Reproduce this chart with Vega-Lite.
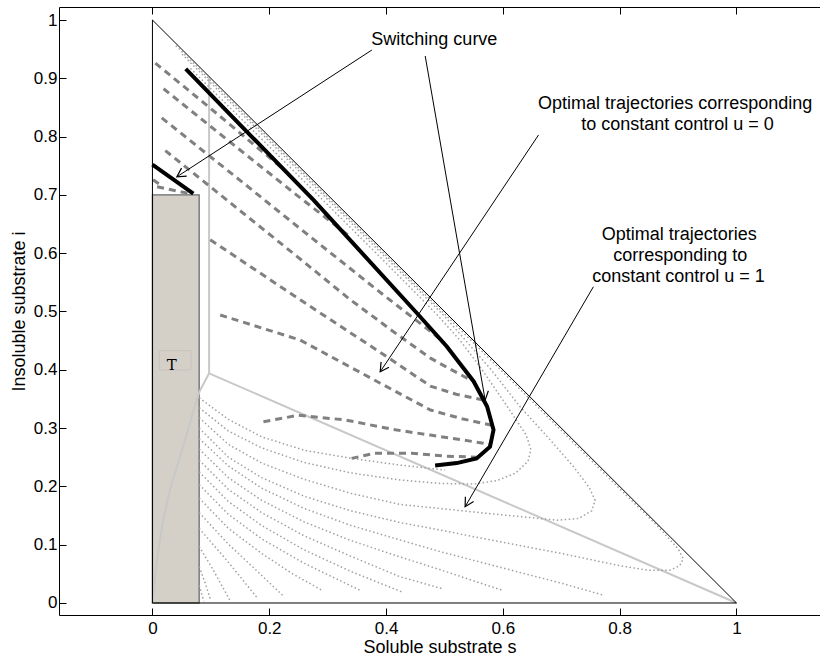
{
  "$schema": "https://vega.github.io/schema/vega-lite/v6.json",
  "width": 761,
  "height": 608,
  "autosize": {"type": "none"},
  "padding": {"left": 59, "top": 7, "right": 0, "bottom": 41},
  "background": "white",
  "config": {
    "view": {"stroke": null},
    "font": "Liberation Sans",
    "axis": {
      "domainColor": "black", "tickColor": "black", "labelColor": "black", "titleColor": "black",
      "labelFont": "Liberation Sans", "titleFont": "Liberation Sans",
      "labelFontSize": 17, "titleFontSize": 18, "titleFontWeight": "normal",
      "grid": false, "tickSize": -7, "domainWidth": 1, "tickWidth": 1
    }
  },
  "datasets": {
    "box": [{"x": 0, "x2": 0.08, "y": 0, "y2": 0.7}],
    "tbox": [{"x": 0.012, "x2": 0.066, "y": 0.3997, "y2": 0.4328}],
    "tri": [{"id": "t", "x": 0, "y": 1}, {"id": "t", "x": 1, "y": 0}, {"id": "t", "x": 0, "y": 0}, {"id": "t", "x": 0, "y": 1}],
    "gray": [
      {"id": "g1", "x": 0.097, "y": 0.902}, {"id": "g1", "x": 0.097, "y": 0.394}, {"id": "g1", "x": 1, "y": 0},
      {"id": "g2", "x": 0.097, "y": 0.394}, {"id": "g2", "x": 0.0805, "y": 0.3625}, {"id": "g2", "x": 0.068, "y": 0.322},
      {"id": "g2", "x": 0.056, "y": 0.28}, {"id": "g2", "x": 0.043, "y": 0.237}, {"id": "g2", "x": 0.03, "y": 0.194},
      {"id": "g2", "x": 0.019, "y": 0.145}, {"id": "g2", "x": 0.011, "y": 0.097}, {"id": "g2", "x": 0.005, "y": 0.05},
      {"id": "g2", "x": 0.0017, "y": 0.011}, {"id": "g2", "x": 0, "y": 0}
    ],
    "dot": [
      {"id": "a0", "x": 0.08, "y": 0.352}, {"id": "a0", "x": 0.13, "y": 0.315}, {"id": "a0", "x": 0.187, "y": 0.285}, {"id": "a0", "x": 0.26, "y": 0.262}, {"id": "a0", "x": 0.341, "y": 0.248}, {"id": "a0", "x": 0.42, "y": 0.237}, {"id": "a0", "x": 0.501, "y": 0.228},
      {"id": "a1", "x": 0.08, "y": 0.335}, {"id": "a1", "x": 0.13, "y": 0.295}, {"id": "a1", "x": 0.187, "y": 0.266}, {"id": "a1", "x": 0.26, "y": 0.241}, {"id": "a1", "x": 0.34, "y": 0.223}, {"id": "a1", "x": 0.424, "y": 0.211}, {"id": "a1", "x": 0.493, "y": 0.205}, {"id": "a1", "x": 0.55, "y": 0.204}, {"id": "a1", "x": 0.59, "y": 0.21}, {"id": "a1", "x": 0.622, "y": 0.223}, {"id": "a1", "x": 0.643, "y": 0.243}, {"id": "a1", "x": 0.648, "y": 0.263}, {"id": "a1", "x": 0.64, "y": 0.288}, {"id": "a1", "x": 0.607, "y": 0.338}, {"id": "a1", "x": 0.561, "y": 0.405}, {"id": "a1", "x": 0.527, "y": 0.45}, {"id": "a1", "x": 0.487, "y": 0.495}, {"id": "a1", "x": 0.4, "y": 0.583}, {"id": "a1", "x": 0.3, "y": 0.683}, {"id": "a1", "x": 0.2, "y": 0.783}, {"id": "a1", "x": 0.1, "y": 0.882}, {"id": "a1", "x": 0.065, "y": 0.917},
      {"id": "a2", "x": 0.08, "y": 0.318}, {"id": "a2", "x": 0.13, "y": 0.272}, {"id": "a2", "x": 0.187, "y": 0.24}, {"id": "a2", "x": 0.26, "y": 0.212}, {"id": "a2", "x": 0.34, "y": 0.188}, {"id": "a2", "x": 0.424, "y": 0.169}, {"id": "a2", "x": 0.493, "y": 0.162}, {"id": "a2", "x": 0.6, "y": 0.151}, {"id": "a2", "x": 0.693, "y": 0.142}, {"id": "a2", "x": 0.73, "y": 0.145}, {"id": "a2", "x": 0.752, "y": 0.158}, {"id": "a2", "x": 0.758, "y": 0.176}, {"id": "a2", "x": 0.748, "y": 0.198}, {"id": "a2", "x": 0.72, "y": 0.235}, {"id": "a2", "x": 0.68, "y": 0.281}, {"id": "a2", "x": 0.63, "y": 0.336}, {"id": "a2", "x": 0.58, "y": 0.4}, {"id": "a2", "x": 0.5, "y": 0.492}, {"id": "a2", "x": 0.4, "y": 0.592}, {"id": "a2", "x": 0.3, "y": 0.692}, {"id": "a2", "x": 0.2, "y": 0.792}, {"id": "a2", "x": 0.1, "y": 0.892}, {"id": "a2", "x": 0.05, "y": 0.942},
      {"id": "a3", "x": 0.08, "y": 0.3}, {"id": "a3", "x": 0.13, "y": 0.25}, {"id": "a3", "x": 0.187, "y": 0.215}, {"id": "a3", "x": 0.26, "y": 0.183}, {"id": "a3", "x": 0.34, "y": 0.158}, {"id": "a3", "x": 0.424, "y": 0.138}, {"id": "a3", "x": 0.493, "y": 0.125}, {"id": "a3", "x": 0.6, "y": 0.104}, {"id": "a3", "x": 0.7, "y": 0.085}, {"id": "a3", "x": 0.8, "y": 0.064}, {"id": "a3", "x": 0.85, "y": 0.056}, {"id": "a3", "x": 0.885, "y": 0.056}, {"id": "a3", "x": 0.903, "y": 0.064}, {"id": "a3", "x": 0.909, "y": 0.076}, {"id": "a3", "x": 0.9, "y": 0.093}, {"id": "a3", "x": 0.864, "y": 0.133}, {"id": "a3", "x": 0.8, "y": 0.196}, {"id": "a3", "x": 0.7, "y": 0.296}, {"id": "a3", "x": 0.6, "y": 0.396}, {"id": "a3", "x": 0.5, "y": 0.496}, {"id": "a3", "x": 0.4, "y": 0.596}, {"id": "a3", "x": 0.3, "y": 0.696}, {"id": "a3", "x": 0.2, "y": 0.796}, {"id": "a3", "x": 0.1, "y": 0.896}, {"id": "a3", "x": 0.04, "y": 0.956},
      {"id": "a4", "x": 0.08, "y": 0.282}, {"id": "a4", "x": 0.13, "y": 0.235}, {"id": "a4", "x": 0.187, "y": 0.197}, {"id": "a4", "x": 0.26, "y": 0.162}, {"id": "a4", "x": 0.34, "y": 0.133}, {"id": "a4", "x": 0.424, "y": 0.108}, {"id": "a4", "x": 0.493, "y": 0.088}, {"id": "a4", "x": 0.6, "y": 0.06}, {"id": "a4", "x": 0.7, "y": 0.034}, {"id": "a4", "x": 0.77, "y": 0.014},
      {"id": "a5", "x": 0.08, "y": 0.264}, {"id": "a5", "x": 0.13, "y": 0.215}, {"id": "a5", "x": 0.187, "y": 0.176}, {"id": "a5", "x": 0.26, "y": 0.139}, {"id": "a5", "x": 0.34, "y": 0.107}, {"id": "a5", "x": 0.424, "y": 0.079}, {"id": "a5", "x": 0.493, "y": 0.057}, {"id": "a5", "x": 0.598, "y": 0.022},
      {"id": "a6", "x": 0.08, "y": 0.245}, {"id": "a6", "x": 0.13, "y": 0.195}, {"id": "a6", "x": 0.187, "y": 0.155}, {"id": "a6", "x": 0.26, "y": 0.115}, {"id": "a6", "x": 0.34, "y": 0.08}, {"id": "a6", "x": 0.424, "y": 0.045}, {"id": "a6", "x": 0.498, "y": 0.024},
      {"id": "a7", "x": 0.08, "y": 0.225}, {"id": "a7", "x": 0.13, "y": 0.174}, {"id": "a7", "x": 0.187, "y": 0.133}, {"id": "a7", "x": 0.26, "y": 0.091}, {"id": "a7", "x": 0.34, "y": 0.054}, {"id": "a7", "x": 0.427, "y": 0.019},
      {"id": "a8", "x": 0.08, "y": 0.203}, {"id": "a8", "x": 0.13, "y": 0.152}, {"id": "a8", "x": 0.187, "y": 0.11}, {"id": "a8", "x": 0.26, "y": 0.068}, {"id": "a8", "x": 0.355, "y": 0.022},
      {"id": "a9", "x": 0.08, "y": 0.18}, {"id": "a9", "x": 0.13, "y": 0.128}, {"id": "a9", "x": 0.187, "y": 0.085}, {"id": "a9", "x": 0.24, "y": 0.05}, {"id": "a9", "x": 0.29, "y": 0.022},
      {"id": "a10", "x": 0.08, "y": 0.155}, {"id": "a10", "x": 0.13, "y": 0.101}, {"id": "a10", "x": 0.18, "y": 0.054}, {"id": "a10", "x": 0.224, "y": 0.012},
      {"id": "a11", "x": 0.08, "y": 0.128}, {"id": "a11", "x": 0.13, "y": 0.07}, {"id": "a11", "x": 0.18, "y": 0.008},
      {"id": "a12", "x": 0.08, "y": 0.097}, {"id": "a12", "x": 0.105, "y": 0.055}, {"id": "a12", "x": 0.133, "y": 0.004},
      {"id": "a13", "x": 0.08, "y": 0.062}, {"id": "a13", "x": 0.09, "y": 0.035}, {"id": "a13", "x": 0.1, "y": 0.004},
      {"id": "a14", "x": 0.08, "y": 0.03}, {"id": "a14", "x": 0.088, "y": 0.003}
    ],
    "dash": [
      {"id": "d1", "x": 0.005, "y": 0.926}, {"id": "d1", "x": 0.1, "y": 0.848}, {"id": "d1", "x": 0.223, "y": 0.745},
      {"id": "d2", "x": 0.019, "y": 0.882}, {"id": "d2", "x": 0.15, "y": 0.777}, {"id": "d2", "x": 0.253, "y": 0.695}, {"id": "d2", "x": 0.34, "y": 0.627},
      {"id": "d3", "x": 0.016, "y": 0.832}, {"id": "d3", "x": 0.15, "y": 0.725}, {"id": "d3", "x": 0.253, "y": 0.642}, {"id": "d3", "x": 0.396, "y": 0.528}, {"id": "d3", "x": 0.476, "y": 0.466}, {"id": "d3", "x": 0.5, "y": 0.446},
      {"id": "d4", "x": 0.022, "y": 0.776}, {"id": "d4", "x": 0.15, "y": 0.673}, {"id": "d4", "x": 0.253, "y": 0.59}, {"id": "d4", "x": 0.339, "y": 0.52}, {"id": "d4", "x": 0.42, "y": 0.46}, {"id": "d4", "x": 0.476, "y": 0.42}, {"id": "d4", "x": 0.51, "y": 0.401}, {"id": "d4", "x": 0.544, "y": 0.383},
      {"id": "d6", "x": 0.099, "y": 0.623}, {"id": "d6", "x": 0.253, "y": 0.52}, {"id": "d6", "x": 0.39, "y": 0.43}, {"id": "d6", "x": 0.476, "y": 0.372}, {"id": "d6", "x": 0.52, "y": 0.358}, {"id": "d6", "x": 0.567, "y": 0.348},
      {"id": "d7", "x": 0.116, "y": 0.494}, {"id": "d7", "x": 0.253, "y": 0.451}, {"id": "d7", "x": 0.39, "y": 0.377}, {"id": "d7", "x": 0.476, "y": 0.331}, {"id": "d7", "x": 0.53, "y": 0.316}, {"id": "d7", "x": 0.581, "y": 0.305},
      {"id": "c1", "x": 0.19, "y": 0.311}, {"id": "c1", "x": 0.25, "y": 0.322}, {"id": "c1", "x": 0.33, "y": 0.314}, {"id": "c1", "x": 0.416, "y": 0.297}, {"id": "c1", "x": 0.476, "y": 0.288}, {"id": "c1", "x": 0.53, "y": 0.28}, {"id": "c1", "x": 0.578, "y": 0.272},
      {"id": "c2", "x": 0.341, "y": 0.248}, {"id": "c2", "x": 0.381, "y": 0.257}, {"id": "c2", "x": 0.444, "y": 0.257}, {"id": "c2", "x": 0.501, "y": 0.252}, {"id": "c2", "x": 0.555, "y": 0.25},
      {"id": "s1", "x": 0.001, "y": 0.726}, {"id": "s1", "x": 0.018, "y": 0.714},
      {"id": "s2", "x": 0.008, "y": 0.714}, {"id": "s2", "x": 0.06, "y": 0.703}
    ],
    "blk": [
      {"id": "b1", "x": 0, "y": 0.752}, {"id": "b1", "x": 0.07, "y": 0.702},
      {"id": "b2", "x": 0.057, "y": 0.916}, {"id": "b2", "x": 0.276, "y": 0.691}, {"id": "b2", "x": 0.453, "y": 0.497}, {"id": "b2", "x": 0.504, "y": 0.44}, {"id": "b2", "x": 0.55, "y": 0.38}, {"id": "b2", "x": 0.573, "y": 0.337}, {"id": "b2", "x": 0.584, "y": 0.297}, {"id": "b2", "x": 0.578, "y": 0.268}, {"id": "b2", "x": 0.555, "y": 0.248}, {"id": "b2", "x": 0.521, "y": 0.24}, {"id": "b2", "x": 0.484, "y": 0.236}
    ],
    "arr": [
      {"id": "r1", "x": 0.3757, "y": 0.9485}, {"id": "r1", "x": 0.0418, "y": 0.731},
      {"id": "r2", "x": 0.467, "y": 0.9383}, {"id": "r2", "x": 0.5697, "y": 0.348},
      {"id": "r3", "x": 0.661, "y": 0.8027}, {"id": "r3", "x": 0.39, "y": 0.3967},
      {"id": "r4", "x": 0.755, "y": 0.5425}, {"id": "r4", "x": 0.5354, "y": 0.1652}
    ],
    "heads": [
      {"x": 0.0418, "y": 0.731, "a": 57},
      {"x": 0.5697, "y": 0.348, "a": -9.9},
      {"x": 0.39, "y": 0.3967, "a": 33.8},
      {"x": 0.5354, "y": 0.1652, "a": 30.3}
    ],
    "txt": [
      {"x": 0.4827, "y": 0.9657, "t": "Switching curve"},
      {"x": 0.895, "y": 0.856, "t": "Optimal trajectories corresponding"},
      {"x": 0.899, "y": 0.82, "t": "to constant control u = 0"},
      {"x": 0.902, "y": 0.632, "t": "Optimal trajectories"},
      {"x": 0.9036, "y": 0.596, "t": "corresponding to"},
      {"x": 0.9007, "y": 0.56, "t": "constant control u = 1"}
    ],
    "tlab": [{"x": 0.0332, "y": 0.408, "t": "T"}]
  },
  "resolve": {"axis": {"x": "independent"}},
  "layer": [
    {
      "layer": [
        {
          "data": {"name": "box"},
          "mark": {"type": "rect", "fill": "#d4d0c8", "stroke": "#6a6a6a", "strokeWidth": 1.3},
          "encoding": {
            "x": {"field": "x", "type": "quantitative", "title": "Soluble substrate s",
                  "scale": {"domain": [-0.16, 1.143], "nice": false, "zero": false},
                  "axis": {"orient": "bottom", "values": [0, 0.2, 0.4, 0.6, 0.8, 1], "format": "~g", "labelPadding": 12, "titlePadding": 2}},
            "x2": {"field": "x2"},
            "y": {"field": "y", "type": "quantitative", "title": "Insoluble substrate i",
                  "scale": {"domain": [-0.0206, 1.0223], "nice": false, "zero": false},
                  "axis": {"values": [0, 0.1, 0.2, 0.3, 0.4, 0.5, 0.6, 0.7, 0.8, 0.9, 1], "format": "~g", "labelPadding": 9, "titlePadding": 5}},
            "y2": {"field": "y2"}
          }
        },
        {
          "data": {"name": "tbox"},
          "mark": {"type": "rect", "fill": null, "stroke": "#c4c2bc", "strokeWidth": 0.8},
          "encoding": {
            "x": {"field": "x", "type": "quantitative", "title": "Soluble substrate s", "scale": {"domain": [-0.16, 1.143], "nice": false, "zero": false}},
            "x2": {"field": "x2"},
            "y": {"field": "y", "type": "quantitative", "title": "Insoluble substrate i", "scale": {"domain": [-0.0206, 1.0223], "nice": false, "zero": false}},
            "y2": {"field": "y2"}
          }
        },
        {
          "data": {"name": "tlab"},
          "mark": {"type": "text", "font": "DejaVu Serif", "fontSize": 15, "color": "black", "baseline": "middle", "align": "center"},
          "encoding": {
            "x": {"field": "x", "type": "quantitative", "title": "Soluble substrate s", "scale": {"domain": [-0.16, 1.143], "nice": false, "zero": false}},
            "y": {"field": "y", "type": "quantitative", "title": "Insoluble substrate i", "scale": {"domain": [-0.0206, 1.0223], "nice": false, "zero": false}},
            "text": {"field": "t"}
          }
        },
        {
          "data": {"name": "gray"},
          "mark": {"type": "line", "stroke": "#c8c8c8", "strokeWidth": 2},
          "encoding": {
            "x": {"field": "x", "type": "quantitative", "title": "Soluble substrate s", "scale": {"domain": [-0.16, 1.143], "nice": false, "zero": false}},
            "y": {"field": "y", "type": "quantitative", "title": "Insoluble substrate i", "scale": {"domain": [-0.0206, 1.0223], "nice": false, "zero": false}},
            "detail": {"field": "id"},
            "order": {"value": null}
          }
        },
        {
          "data": {"name": "dot"},
          "mark": {"type": "line", "stroke": "#a0a0a0", "strokeWidth": 1.5, "strokeDash": [1.5, 2.5]},
          "encoding": {
            "x": {"field": "x", "type": "quantitative", "title": "Soluble substrate s", "scale": {"domain": [-0.16, 1.143], "nice": false, "zero": false}},
            "y": {"field": "y", "type": "quantitative", "title": "Insoluble substrate i", "scale": {"domain": [-0.0206, 1.0223], "nice": false, "zero": false}},
            "detail": {"field": "id"},
            "order": {"value": null}
          }
        },
        {
          "data": {"name": "dash"},
          "mark": {"type": "line", "stroke": "#808080", "strokeWidth": 3, "strokeDash": [7, 5]},
          "encoding": {
            "x": {"field": "x", "type": "quantitative", "title": "Soluble substrate s", "scale": {"domain": [-0.16, 1.143], "nice": false, "zero": false}},
            "y": {"field": "y", "type": "quantitative", "title": "Insoluble substrate i", "scale": {"domain": [-0.0206, 1.0223], "nice": false, "zero": false}},
            "detail": {"field": "id"},
            "order": {"value": null}
          }
        },
        {
          "data": {"name": "blk"},
          "mark": {"type": "line", "stroke": "black", "strokeWidth": 4},
          "encoding": {
            "x": {"field": "x", "type": "quantitative", "title": "Soluble substrate s", "scale": {"domain": [-0.16, 1.143], "nice": false, "zero": false}},
            "y": {"field": "y", "type": "quantitative", "title": "Insoluble substrate i", "scale": {"domain": [-0.0206, 1.0223], "nice": false, "zero": false}},
            "detail": {"field": "id"},
            "order": {"value": null}
          }
        },
        {
          "data": {"name": "tri"},
          "mark": {"type": "line", "stroke": "black", "strokeWidth": 1},
          "encoding": {
            "x": {"field": "x", "type": "quantitative", "title": "Soluble substrate s", "scale": {"domain": [-0.16, 1.143], "nice": false, "zero": false}},
            "y": {"field": "y", "type": "quantitative", "title": "Insoluble substrate i", "scale": {"domain": [-0.0206, 1.0223], "nice": false, "zero": false}},
            "detail": {"field": "id"},
            "order": {"value": null}
          }
        },
        {
          "data": {"name": "arr"},
          "mark": {"type": "line", "stroke": "black", "strokeWidth": 1},
          "encoding": {
            "x": {"field": "x", "type": "quantitative", "title": "Soluble substrate s", "scale": {"domain": [-0.16, 1.143], "nice": false, "zero": false}},
            "y": {"field": "y", "type": "quantitative", "title": "Insoluble substrate i", "scale": {"domain": [-0.0206, 1.0223], "nice": false, "zero": false}},
            "detail": {"field": "id"},
            "order": {"value": null}
          }
        },
        {
          "data": {"name": "heads"},
          "mark": {"type": "point", "shape": "M -0.55 -1 L 0 0 L 0.55 -1", "filled": false, "stroke": "black", "strokeWidth": 1.2, "size": 300, "opacity": 1},
          "encoding": {
            "x": {"field": "x", "type": "quantitative", "title": "Soluble substrate s", "scale": {"domain": [-0.16, 1.143], "nice": false, "zero": false}},
            "y": {"field": "y", "type": "quantitative", "title": "Insoluble substrate i", "scale": {"domain": [-0.0206, 1.0223], "nice": false, "zero": false}},
            "angle": {"field": "a", "type": "quantitative", "scale": null}
          }
        },
        {
          "data": {"name": "txt"},
          "mark": {"type": "text", "font": "Liberation Sans", "fontSize": 18, "color": "black", "baseline": "middle", "align": "center"},
          "encoding": {
            "x": {"field": "x", "type": "quantitative", "title": "Soluble substrate s", "scale": {"domain": [-0.16, 1.143], "nice": false, "zero": false}},
            "y": {"field": "y", "type": "quantitative", "title": "Insoluble substrate i", "scale": {"domain": [-0.0206, 1.0223], "nice": false, "zero": false}},
            "text": {"field": "t"}
          }
        }
      ]
    },
    {
      "data": {"name": "tri"},
      "mark": {"type": "point", "opacity": 0},
      "encoding": {
        "x": {"field": "x", "type": "quantitative", "title": "Soluble substrate s",
              "scale": {"domain": [-0.16, 1.143], "nice": false, "zero": false},
              "axis": {"orient": "top", "values": [0, 0.2, 0.4, 0.6, 0.8, 1], "labels": false, "title": null}},
        "y": {"field": "y", "type": "quantitative", "title": "Insoluble substrate i", "scale": {"domain": [-0.0206, 1.0223], "nice": false, "zero": false}}
      }
    }
  ]
}
